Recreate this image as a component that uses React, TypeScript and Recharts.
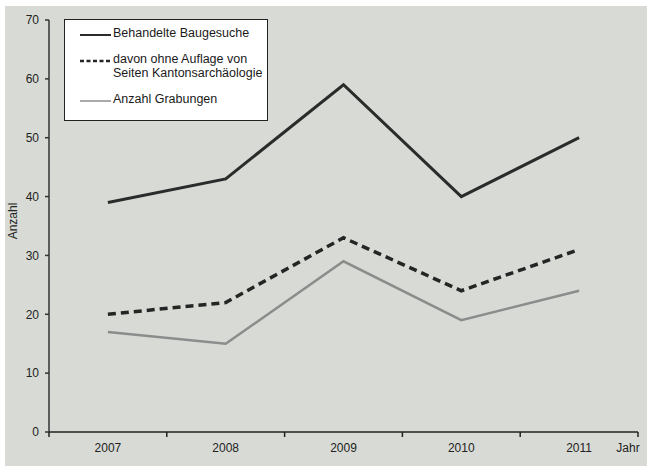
import { LineChart, Line, XAxis, YAxis } from "recharts";

const years = ["2007", "2008", "2009", "2010", "2011"];
const baugesuche = [39, 43, 59, 40, 50];
const ohneAuflage = [20, 22, 33, 24, 31];
const grabungen = [17, 15, 29, 19, 24];
const yTicks = [0, 10, 20, 30, 40, 50, 60, 70];

const data = years.map((year, i) => ({
  year,
  baugesuche: baugesuche[i],
  ohneAuflage: ohneAuflage[i],
  grabungen: grabungen[i],
}));

const series = [
  { key: "baugesuche", label: ["Behandelte Baugesuche"], color: "#2b2b2b", width: 3, dash: undefined },
  { key: "ohneAuflage", label: ["davon ohne Auflage von", "Seiten Kantonsarchäologie"], color: "#252525", width: 3.5, dash: "8 5" },
  { key: "grabungen", label: ["Anzahl Grabungen"], color: "#8c8c8c", width: 2.5, dash: undefined },
];

const font = '"Liberation Sans", Arial, sans-serif';
const bg = "#d8dbd5";

const YearTick = (props: any) => {
  const { x, y, payload, index } = props;
  const half = payload?.offset ?? 0;
  const last = index === years.length - 1;
  return (
    <g>
      <line x1={x - half} x2={x - half} y1={y} y2={y + 5} stroke="#222" strokeWidth={1.5} />
      {last && <line x1={x + half} x2={x + half} y1={y} y2={y + 5} stroke="#222" strokeWidth={1.5} />}
      <text x={x} y={y + 20} textAnchor="middle" fontSize={12} fill="#222" fontFamily={font}>
        {payload.value}
      </text>
      {last && (
        <text x={x + half - 10} y={y + 20} textAnchor="middle" fontSize={12} fill="#222" fontFamily={font}>
          Jahr
        </text>
      )}
    </g>
  );
};

const LegendBox = () => {
  const rows = [14, 40, 80];
  return (
    <div
      style={{
        position: "absolute",
        left: 64,
        top: 19,
        width: 202,
        height: 100,
        background: "#fff",
        border: "1.5px solid #222",
        fontFamily: font,
        fontSize: 12.5,
        color: "#1a1a1a",
      }}
    >
      {series.map((s, i) => (
        <div key={s.key} style={{ position: "absolute", left: 0, top: rows[i] - 7, width: "100%" }}>
          <svg width={32} height={14} style={{ position: "absolute", left: 15, top: 1 }}>
            <line x1={0} x2={31} y1={7} y2={7} stroke={s.color} strokeWidth={s.width - 1} strokeDasharray={s.dash ? "4 2.5" : undefined} />
          </svg>
          <div style={{ position: "absolute", left: 48, top: -1, lineHeight: "14px", whiteSpace: "nowrap" }}>
            {s.label.map((l) => (
              <div key={l}>{l}</div>
            ))}
          </div>
        </div>
      ))}
    </div>
  );
};

const App = () => {
  return (
    <div style={{ position: "fixed", left: 0, top: 0, width: 647, height: 466, background: "#fff", overflow: "hidden" }}>
      <div style={{ position: "absolute", left: 5, top: 6, right: 0, bottom: 0, background: bg }} />
      <div style={{ position: "absolute", left: 0, top: 0 }}>
        <LineChart width={647} height={466} data={data} margin={{ top: 20, right: 9, bottom: 0, left: 0 }}>
          <XAxis
            dataKey="year"
            scale="band"
            axisLine={{ stroke: "#222", strokeWidth: 1.5 }}
            tickLine={false}
            tickSize={0}
            tickMargin={0}
            tick={<YearTick />}
            interval={0}
            height={34}
          />
          <YAxis
            width={49}
            domain={[0, 70]}
            ticks={yTicks}
            interval={0}
            axisLine={{ stroke: "#333", strokeWidth: 1.5 }}
            tickLine={{ stroke: "#333", strokeWidth: 1.5 }}
            tickSize={4}
            tickMargin={6}
            tick={{ fontSize: 12, fill: "#222", fontFamily: font }}
          />
          {series.map((s) => (
            <Line
              key={s.key}
              type="linear"
              dataKey={s.key}
              stroke={s.color}
              strokeWidth={s.width}
              strokeDasharray={s.dash}
              dot={false}
              activeDot={false}
              isAnimationActive={false}
            />
          ))}
        </LineChart>
      </div>
      <svg width={30} height={466} style={{ position: "absolute", left: 0, top: 0 }}>
        <text x={17} y={221} transform="rotate(-90 17 221)" textAnchor="middle" fontSize={12} fill="#222" fontFamily={font}>
          Anzahl
        </text>
      </svg>
      <LegendBox />
    </div>
  );
};

export default App;
